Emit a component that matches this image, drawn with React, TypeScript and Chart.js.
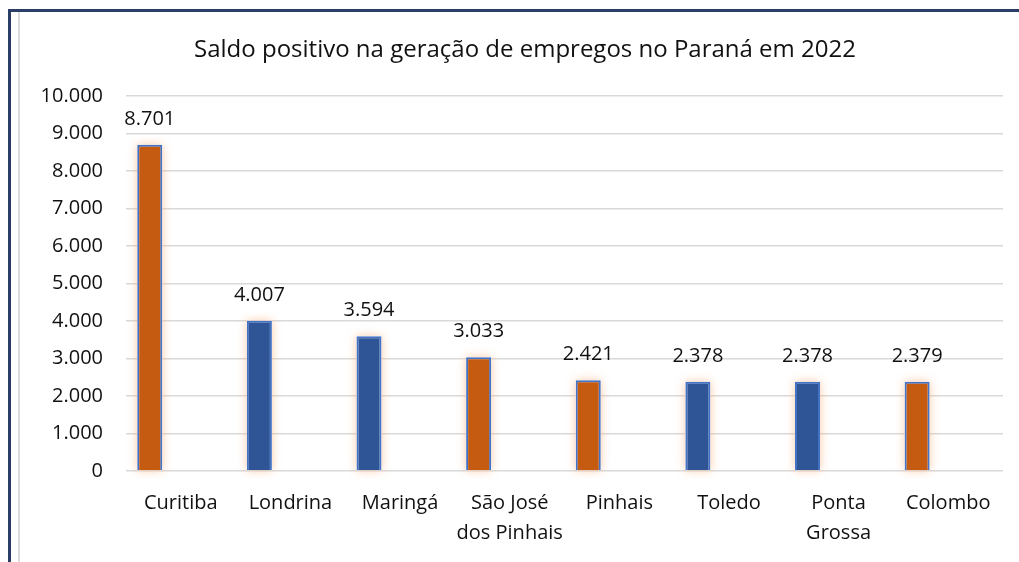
import React, { useEffect, useRef } from "react";
import { Chart, registerables } from "chart.js";

Chart.register(...registerables);

const TITLE = "Saldo positivo na geração de empregos no Paraná em 2022";
const categories: (string | string[])[] = [
  "Curitiba",
  "Londrina",
  "Maringá",
  ["São José", "dos Pinhais"],
  "Pinhais",
  "Toledo",
  ["Ponta", "Grossa"],
  "Colombo",
];
const values = [8701, 4007, 3594, 3033, 2421, 2378, 2378, 2379];
const barColors = [
  "#C55A11",
  "#2F5597",
  "#2F5597",
  "#C55A11",
  "#C55A11",
  "#2F5597",
  "#2F5597",
  "#C55A11",
];
const yMin = 0;
const yMax = 10000;
const yStep = 1000;

const FONT = "'Open Sans', sans-serif";

function fmt(n: number): string {
  return String(Math.round(n)).replace(/\B(?=(\d{3})+(?!\d))/g, ".");
}

const glowAndLabels = {
  id: "glowAndLabels",
  beforeDatasetsDraw(chart: any) {
    const ctx = chart.ctx;
    const meta = chart.getDatasetMeta(0);
    ctx.save();
    ctx.shadowColor = "rgba(248,165,105,0.6)";
    ctx.shadowBlur = 10;
    ctx.fillStyle = "#ffffff";
    meta.data.forEach((bar: any) => {
      const w = bar.width;
      ctx.fillRect(bar.x - w / 2, bar.y, w, bar.base - bar.y);
    });
    ctx.restore();
  },
  afterDatasetsDraw(chart: any) {
    const ctx = chart.ctx;
    const meta = chart.getDatasetMeta(0);
    ctx.save();
    ctx.font = `20px ${FONT}`;
    ctx.fillStyle = "#111";
    ctx.textAlign = "center";
    ctx.textBaseline = "alphabetic";
    meta.data.forEach((bar: any, i: number) => {
      ctx.fillText(fmt(values[i]), bar.x, bar.y - 20);
    });
    ctx.restore();
  },
};

export default function App() {
  const ref = useRef<HTMLCanvasElement | null>(null);
  useEffect(() => {
    if (!ref.current) return;
    const chart = new Chart(ref.current, {
      type: "bar",
      data: {
        labels: categories as any,
        datasets: [
          {
            data: values,
            backgroundColor: barColors,
            borderColor: "#4472C4",
            borderWidth: 2,
          },
          { data: values.map(() => null) as any },
          { data: values.map(() => null) as any },
        ],
      },
      options: {
        animation: false,
        responsive: false,
        maintainAspectRatio: false,
        layout: { padding: { left: 31, right: 0, top: 0, bottom: 0 } },
        datasets: {
          bar: { categoryPercentage: 0.85, barPercentage: 0.806 },
        } as any,
        plugins: {
          legend: { display: false },
          tooltip: { enabled: false },
          title: {
            display: true,
            text: TITLE,
            color: "#111",
            font: { family: FONT, size: 24, weight: "normal" as any, lineHeight: 1.2 },
            padding: { top: 36, bottom: 31.2 },
          },
        },
        scales: {
          x: {
            grid: { display: false, drawTicks: false },
            border: { display: false },
            ticks: {
              color: "#111",
              font: { family: FONT, size: 20, lineHeight: 1.5 },
              padding: 17,
              maxRotation: 0,
              autoSkip: false,
            },
            afterFit(scale: any) {
              scale.height = 91;
            },
          },
          y: {
            min: yMin,
            max: yMax,
            grid: { color: "#d9d9d9", lineWidth: 1.5, drawTicks: false },
            border: { display: false },
            ticks: {
              stepSize: yStep,
              color: "#111",
              font: { family: FONT, size: 20 },
              padding: 23,
              callback: (v: any) => fmt(Number(v)),
            },
            afterFit(scale: any) {
              scale.width = 95;
            },
          },
          yRight: {
            position: "right",
            min: yMin,
            max: yMax,
            grid: { display: false, drawTicks: false },
            border: { display: false },
            ticks: { display: false },
            afterFit(scale: any) {
              scale.width = 16;
            },
          },
        },
      },
      plugins: [glowAndLabels],
    });
    return () => chart.destroy();
  }, []);

  return (
    <div
      style={{
        position: "fixed",
        left: 0,
        top: 0,
        width: 1019,
        height: 562,
        background: "#fff",
        overflow: "hidden",
      }}
    >
      <canvas
        ref={ref}
        width={1019}
        height={562}
        style={{ position: "absolute", left: 0, top: 0, width: 1019, height: 562 }}
      />
      <div style={{ position: "absolute", left: 8, top: 9, width: 3, height: 553, background: "#2B3F66" }} />
      <div style={{ position: "absolute", left: 8, top: 9, width: 1011, height: 3, background: "#2B3F66" }} />
      <div style={{ position: "absolute", left: 18, top: 12, width: 2, height: 550, background: "#dcdcdc" }} />
    </div>
  );
}
